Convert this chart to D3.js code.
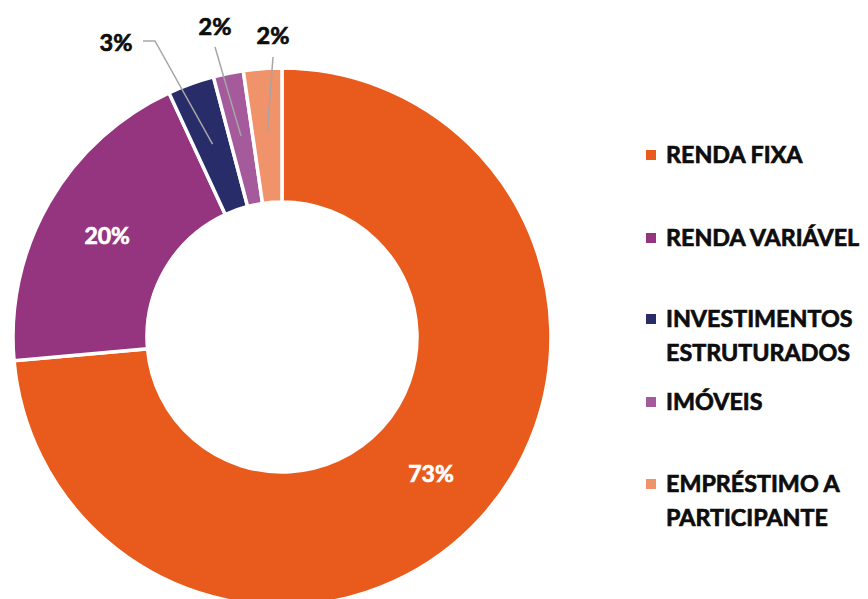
<!DOCTYPE html>
<html lang="pt">
<head>
<meta charset="UTF-8">
<title>Alocação</title>
<script src="https://cdn.jsdelivr.net/npm/d3@7.8.4/dist/d3.min.js"></script>
<style>
  body { margin: 0; background: #fff; }
  svg { display: block; font-family: Lato, "Noto Sans", sans-serif; font-weight: 700; }
</style>
</head>
<body>
<svg id="chart" width="868" height="599"></svg>
<script>
// Data
const categories = ["RENDA FIXA", "RENDA VARIÁVEL", "INVESTIMENTOS ESTRUTURADOS", "IMÓVEIS", "EMPRÉSTIMO A PARTICIPANTE"];
const values = [73.6, 19.5, 2.8, 1.8, 2.3];
const valueLabels = ["73%", "20%", "3%", "2%", "2%"];
const legendLines = [["RENDA FIXA"], ["RENDA VARIÁVEL"], ["INVESTIMENTOS", "ESTRUTURADOS"], ["IMÓVEIS"], ["EMPRÉSTIMO A", "PARTICIPANTE"]];
const colors = ["#E95B1C", "#953580", "#282D69", "#A55A9B", "#F0926A"];

const svg = d3.select("#chart");
const cx = 282, cy = 337, outerR = 269, innerR = 135;

const pie = d3.pie().sort(null).value(d => d.value);
const arcs = pie(categories.map((c, i) => ({ name: c, value: values[i], label: valueLabels[i], color: colors[i] })));

const arc = d3.arc().innerRadius(innerR).outerRadius(outerR);
const labelArc = d3.arc().innerRadius(205).outerRadius(205);

const g = svg.append("g").attr("transform", `translate(${cx},${cy})`);

g.selectAll("path.slice")
  .data(arcs)
  .enter().append("path")
  .attr("class", "slice")
  .attr("d", arc)
  .attr("fill", d => d.data.color)
  .attr("stroke", "#fff")
  .attr("stroke-width", 3.5)
  .attr("stroke-linejoin", "miter");

// inside labels for the two big slices
const midArc = d3.arc().innerRadius((innerR + outerR) / 2).outerRadius((innerR + outerR) / 2);
g.selectAll("text.inlabel")
  .data(arcs.slice(0, 2))
  .enter().append("text")
  .attr("class", "inlabel")
  .attr("transform", d => `translate(${midArc.centroid(d)})`)
  .attr("text-anchor", "middle")
  .attr("dy", "0.36em")
  .attr("fill", "#fff")
  .attr("stroke", "#fff")
  .attr("stroke-width", 0.7)
  .attr("font-size", 23)
  .text(d => d.data.label);

// outside labels with leader lines (manually placed like in the original)
const outside = [
  { i: 2, text: [-166, -294], bend: [-127, -296], end: [-139, -296] },
  { i: 3, text: [-67, -310], bend: [-67, -290] },
  { i: 4, text: [-9, -301], bend: [-9, -280] }
];
outside.forEach(o => {
  const a = arcs[o.i];
  const p0 = labelArc.centroid(a);
  const pts = [p0, o.bend];
  if (o.end) pts.push(o.end);
  g.append("path")
    .attr("d", d3.line()(pts))
    .attr("fill", "none")
    .attr("stroke", "#A6A6A6")
    .attr("stroke-width", 1.5);
  g.append("text")
    .attr("x", o.text[0])
    .attr("y", o.text[1])
    .attr("text-anchor", "middle")
    .attr("dy", "0.36em")
    .attr("fill", "#0d0d0d")
    .attr("stroke", "#0d0d0d")
    .attr("stroke-width", 0.7)
    .attr("font-size", 23.5)
    .text(a.data.label);
});

// legend
const legendY = [155, 238, 319, 402, 484];
const legend = svg.append("g").attr("transform", "translate(646,0)");
legendLines.forEach((lines, i) => {
  const row = legend.append("g").attr("transform", `translate(0,${legendY[i]})`);
  row.append("rect")
    .attr("x", 0).attr("y", -5)
    .attr("width", 10).attr("height", 10)
    .attr("fill", colors[i]);
  row.selectAll("text")
    .data(lines)
    .enter().append("text")
    .attr("x", 20)
    .attr("y", (d, j) => j * 34)
    .attr("dy", "0.36em")
    .attr("font-size", 23.3)
    .attr("fill", "#0d0d0d")
    .attr("stroke", "#0d0d0d")
    .attr("stroke-width", 0.7)
    .text(d => d);
});
</script>
</body>
</html>
